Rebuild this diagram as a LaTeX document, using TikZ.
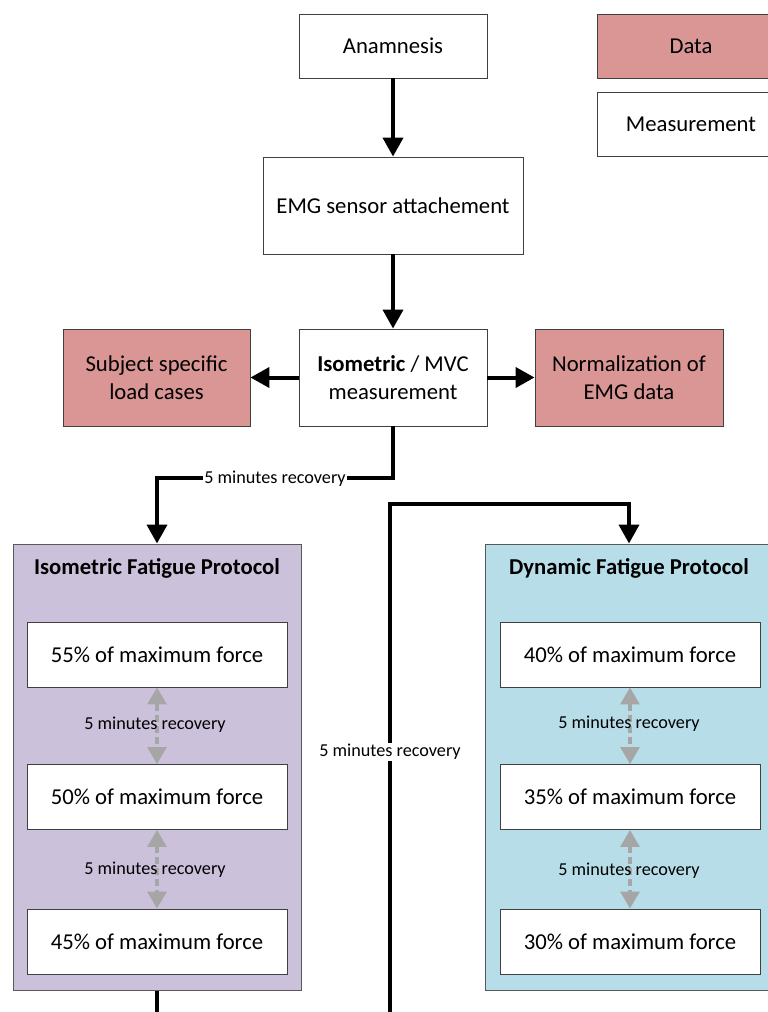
\documentclass[tikz,border=0pt]{standalone}
\usepackage{fontspec}
\setmainfont{Carlito}
\usetikzlibrary{arrows.meta}

\definecolor{datared}{HTML}{D99694}
\definecolor{isolilac}{HTML}{CCC1DA}
\definecolor{dynblue}{HTML}{B7DEE8}
\definecolor{recgray}{HTML}{A6A6A6}
\definecolor{edge}{HTML}{404040}
\definecolor{paneledge}{HTML}{595959}

\newcommand{\mainsize}{\fontsize{22.7}{28}\selectfont}
\newcommand{\smallsize}{\fontsize{18.2}{22}\selectfont}

\tikzset{
  box/.style={draw=edge, line width=0.9pt, fill=white, inner sep=0pt,
    align=center, font=\mainsize},
  databox/.style={box, fill=datared},
  panel/.style={draw=paneledge, line width=1pt, inner sep=0pt},
  paneltitle/.style={font=\mainsize\bfseries, inner sep=0pt},
  flow/.style={line width=4pt, -{Triangle[width=20pt,length=19pt]}},
  plain/.style={line width=4pt},
  rec/.style={recgray, line width=3.2pt, dash pattern=on 7pt off 4pt,
    {Triangle[width=19pt,length=17pt]}-{Triangle[width=19pt,length=17pt]}},
  lbl/.style={font=\smallsize, inner sep=1pt},
  lblw/.style={lbl, fill=white}
}

\begin{document}
\begin{tikzpicture}[x=1pt, y=-1pt]
  \useasboundingbox (0,0) rectangle (768,1012);
  \clip (0,0) rectangle (768,1012);

  % legend
  \node[databox, minimum width=188pt, minimum height=64pt] (legdata) at (691,46) {Data};
  \node[box, minimum width=188pt, minimum height=64pt] (legmeas) at (691,124) {Measurement};

  % main chain
  \node[box, minimum width=188pt, minimum height=64pt] (anam) at (393,46) {Anamnesis};
  \node[box, minimum width=260pt, minimum height=97pt] (emg) at (393,205.5) {EMG sensor attachement};
  \node[box, minimum width=188pt, minimum height=97pt] (iso) at (393,377.5)
    {\textbf{Isometric} / MVC\\measurement};
  \node[databox, minimum width=187pt, minimum height=97pt] (subj) at (156.5,377.5)
    {Subject specific\\load cases};
  \node[databox, minimum width=188pt, minimum height=97pt] (norm) at (629,377.5)
    {Normalization of\\EMG data};

  \draw[flow] (anam.south) -- (emg.north);
  \draw[flow] (emg.south) -- (iso.north);
  \draw[flow] (iso.west) -- (subj.east);
  \draw[flow] (iso.east) -- (norm.west);

  % protocol panels
  \node[panel, fill=isolilac, minimum width=288pt, minimum height=446pt] (isoP) at (157,767) {};
  \node[panel, fill=dynblue, minimum width=288pt, minimum height=446pt] (dynP) at (629,767) {};
  \node[paneltitle] (isoT) at (157,568) {Isometric Fatigue Protocol};
  \node[paneltitle] (dynT) at (629,568) {Dynamic Fatigue Protocol};

  % isometric steps
  \node[box, minimum width=260pt, minimum height=65pt] (i55) at (157,654.5) {55\% of maximum force};
  \node[box, minimum width=260pt, minimum height=65pt] (i50) at (157,797) {50\% of maximum force};
  \node[box, minimum width=260pt, minimum height=65pt] (i45) at (157,941.5) {45\% of maximum force};

  % dynamic steps
  \node[box, minimum width=260pt, minimum height=65pt] (d40) at (630,654.5) {40\% of maximum force};
  \node[box, minimum width=260pt, minimum height=65pt] (d35) at (630,797) {35\% of maximum force};
  \node[box, minimum width=260pt, minimum height=65pt] (d30) at (630,941.5) {30\% of maximum force};

  % recovery pauses between steps
  \draw[rec] (i55.south) -- (i50.north);
  \draw[rec] (i50.south) -- (i45.north);
  \draw[rec] (d40.south) -- (d35.north);
  \draw[rec] (d35.south) -- (d30.north);
  \node[lbl] (ir1) at (155,725) {5 minutes recovery};
  \node[lbl] (ir2) at (155,870) {5 minutes recovery};
  \node[lbl] (dr1) at (629,724) {5 minutes recovery};
  \node[lbl] (dr2) at (629,871) {5 minutes recovery};

  % transitions into the protocols
  \draw[flow] (iso.south) -- (393,478) -| node[pos=0.25, lblw, yshift=-1pt] (r1) {5 minutes recovery} (isoP.north);

  \coordinate (dynin) at (390,1030);
  \draw[flow] (dynin) -- (390,504) -| (dynP.north);
  \node[lblw] (r2) at (390,752) {5 minutes recovery};

  \coordinate (isoout) at (157,1030);
  \draw[plain] (isoP.south) -- (isoout);
\end{tikzpicture}
\end{document}
